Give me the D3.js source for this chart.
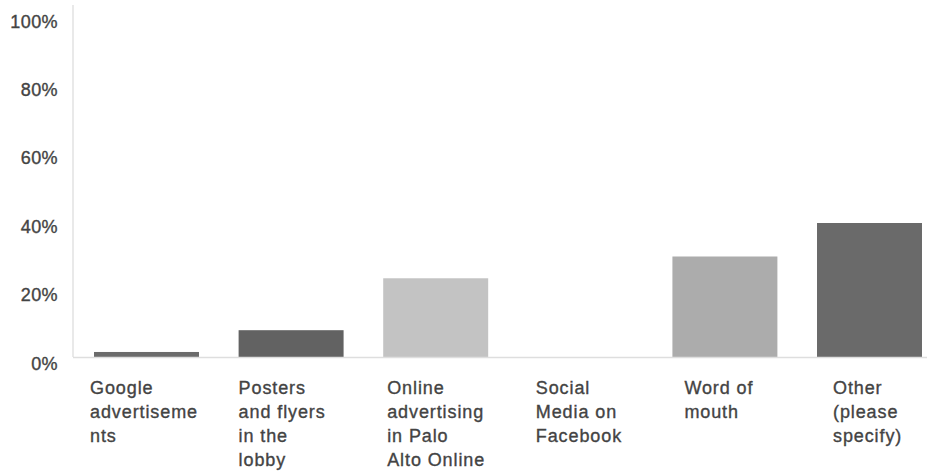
<!DOCTYPE html>
<html>
<head>
<meta charset="utf-8">
<script src="https://cdn.jsdelivr.net/npm/d3@7"></script>
<style>
  html, body { margin: 0; padding: 0; background: #fff; }
  svg { display: block; }
  text { font-family: "Liberation Sans", Arial, sans-serif; fill: #444; }
</style>
</head>
<body>
<svg id="chart" width="927" height="472"></svg>
<script>
// Survey: how respondents heard about the program (percent of respondents)
const categories = [
  "Google advertisements",
  "Posters and flyers in the lobby",
  "Online advertising in Palo Alto Online",
  "Social Media on Facebook",
  "Word of mouth",
  "Other (please specify)"
];
const percents = [1.5, 8, 23.5, 0, 30, 40];
const categoryLines = [
  ["Google", "advertiseme", "nts"],
  ["Posters", "and flyers", "in the", "lobby"],
  ["Online", "advertising", "in Palo", "Alto Online"],
  ["Social", "Media on", "Facebook"],
  ["Word of", "mouth"],
  ["Other", "(please", "specify)"]
];
const barColors = ["#6b6b6b", "#626262", "#c3c3c3", "#b0b0b0", "#acacac", "#6a6a6a"];
const yTicks = [0, 20, 40, 60, 80, 100];

const svg = d3.select("#chart");
const axisX = 73, baseY = 357, topY = 22;
const textColor = "#434343";

const x = d3.scaleBand()
  .domain(categories)
  .range([74.2, 941.8])
  .paddingInner(0.274)
  .paddingOuter(0.137);

const y = d3.scaleLinear().domain([0, 100]).range([baseY, topY]);

// label anchor positions under each bar
const xLabel = d3.scalePoint().domain(categories).range([90, 833]);

// vertical axis line
svg.append("line")
  .attr("x1", axisX).attr("x2", axisX)
  .attr("y1", 5).attr("y2", baseY)
  .attr("stroke", "#e2e2e2").attr("stroke-width", 1.5);

// y axis tick labels
const yAxis = svg.append("g")
  .attr("transform", `translate(${axisX},0)`)
  .call(d3.axisLeft(y).tickValues(yTicks).tickSize(0).tickPadding(15)
        .tickFormat(d => d + "%"));
yAxis.select(".domain").remove();
yAxis.selectAll("text")
  .attr("font-family", "Liberation Sans, Arial, sans-serif")
  .attr("font-size", 18)
  .attr("fill", textColor)
  .attr("stroke", textColor)
  .attr("stroke-width", 0.35)
  .attr("letter-spacing", "0.4px")
  .attr("dy", "0.5em")
  .each(function(d) {
    // tick labels sit slightly lower toward the bottom of the axis
    d3.select(this).attr("transform", `translate(0,${(100 - d) * 0.07 - 4})`);
  });

// bars
svg.append("g").selectAll("rect")
  .data(categories)
  .join("rect")
  .attr("x", d => x(d))
  .attr("width", x.bandwidth())
  .attr("y", (d, i) => y(percents[i]))
  .attr("height", (d, i) => baseY - y(percents[i]))
  .attr("fill", (d, i) => barColors[i]);

// baseline
svg.append("line")
  .attr("x1", axisX).attr("x2", 927)
  .attr("y1", baseY + 0.5).attr("y2", baseY + 0.5)
  .attr("stroke", "#dedede").attr("stroke-width", 1.5);

// category labels
const labels = svg.append("g").selectAll("text")
  .data(categories)
  .join("text")
  .attr("x", d => xLabel(d))
  .attr("y", 394)
  .attr("font-size", 18)
  .attr("fill", textColor)
  .attr("stroke", textColor)
  .attr("stroke-width", 0.35)
  .attr("letter-spacing", "0.9px");

labels.each(function(d, i) {
  d3.select(this).selectAll("tspan")
    .data(categoryLines[i])
    .join("tspan")
    .attr("x", xLabel(d))
    .attr("dy", (t, j) => j === 0 ? 0 : 24)
    .text(t => t);
});
</script>
</body>
</html>
